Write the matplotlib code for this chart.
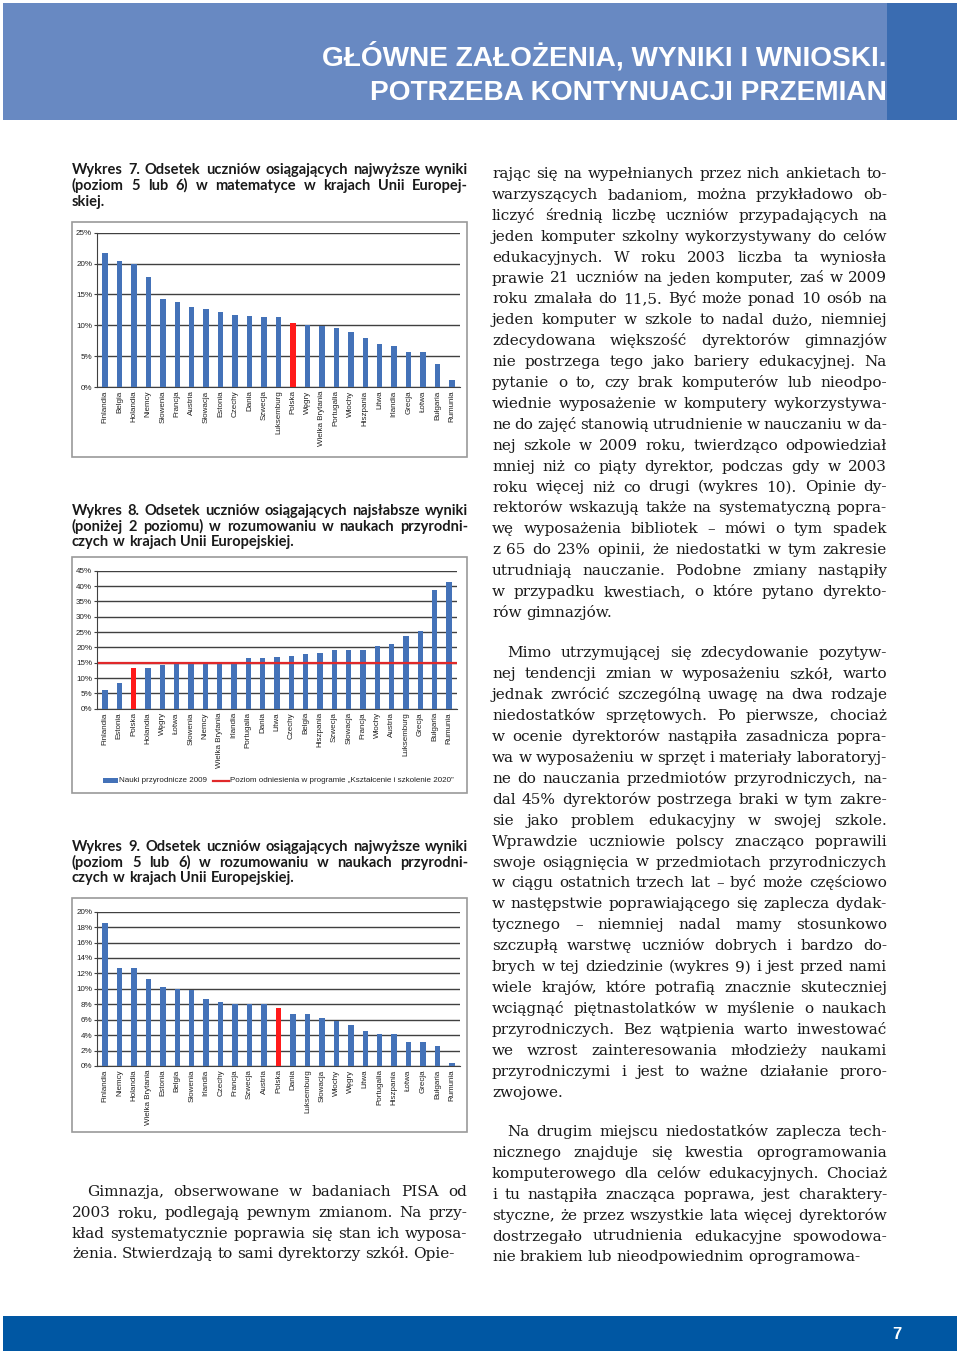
import numpy as np
import matplotlib
matplotlib.use('Agg')
import matplotlib.pyplot as plt
from matplotlib.patches import Rectangle
from matplotlib import font_manager

# --- data -------------------------------------------------------------
labels7 = ['Finlandia', 'Belgia', 'Holandia', 'Niemcy', 'Słowenia', 'Francja', 'Austria',
           'Słowacja', 'Estonia', 'Czechy', 'Dania', 'Szwecja', 'Luksemburg', 'Polska',
           'Węgry', 'Wielka Brytania', 'Portugalia', 'Włochy', 'Hiszpania', 'Litwa',
           'Irlandia', 'Grecja', 'Łotwa', 'Bułgaria', 'Rumunia']
values7 = [21.7, 20.4, 19.9, 17.8, 14.2, 13.7, 12.9, 12.7, 12.1, 11.6, 11.5, 11.4, 11.3,
           10.4, 10.1, 9.9, 9.6, 8.9, 8.0, 7.0, 6.6, 5.7, 5.7, 3.8, 1.2]

labels8 = ['Finlandia', 'Estonia', 'Polska', 'Holandia', 'Węgry', 'Łotwa', 'Słowenia',
           'Niemcy', 'Wielka Brytania', 'Irlandia', 'Portugalia', 'Dania', 'Litwa', 'Czechy',
           'Belgia', 'Hiszpania', 'Szwecja', 'Słowacja', 'Francja', 'Włochy', 'Austria',
           'Luksemburg', 'Grecja', 'Bułgaria', 'Rumunia']
values8 = [6.1, 8.4, 13.2, 13.2, 14.1, 14.8, 14.9, 14.9, 14.9, 15.1, 16.5, 16.6, 17.0, 17.3,
           18.0, 18.2, 19.1, 19.3, 19.3, 20.6, 21.0, 23.7, 25.3, 38.8, 41.4]
target8 = 15.0

labels9 = ['Finlandia', 'Niemcy', 'Holandia', 'Wielka Brytania', 'Estonia', 'Belgia',
           'Słowenia', 'Irlandia', 'Czechy', 'Francja', 'Szwecja', 'Austria', 'Polska',
           'Dania', 'Luksemburg', 'Słowacja', 'Włochy', 'Węgry', 'Litwa', 'Portugalia',
           'Hiszpania', 'Łotwa', 'Grecja', 'Bułgaria', 'Rumunia']
values9 = [18.6, 12.7, 12.7, 11.3, 10.3, 10.0, 9.9, 8.7, 8.3, 8.1, 8.1, 8.0, 7.5, 6.7, 6.7,
           6.2, 5.8, 5.3, 4.6, 4.2, 4.1, 3.1, 3.1, 2.6, 0.4]

header = ['GŁÓWNE ZAŁOŻENIA, WYNIKI I WNIOSKI.', 'POTRZEBA KONTYNUACJI PRZEMIAN']

caption7 = ['Wykres 7. Odsetek uczniów osiągających najwyższe wyniki',
            '(poziom 5 lub 6) w matematyce w krajach Unii Europej-',
            'skiej.']
caption8 = ['Wykres 8. Odsetek uczniów osiągających najsłabsze wyniki',
            '(poniżej 2 poziomu) w rozumowaniu w naukach przyrodni-',
            'czych w krajach Unii Europejskiej.']
caption9 = ['Wykres 9. Odsetek uczniów osiągających najwyższe wyniki',
            '(poziom 5 lub 6) w rozumowaniu w naukach przyrodni-',
            'czych w krajach Unii Europejskiej.']

legend8 = ['Nauki przyrodnicze 2009',
           'Poziom odniesienia w programie „Kształcenie i szkolenie 2020”']

left_par = ['Gimnazja, obserwowane w badaniach PISA od',
            '2003 roku,  podlegają pewnym zmianom. Na przy-',
            'kład systematycznie poprawia się stan ich wyposa-',
            'żenia. Stwierdzają to sami dyrektorzy szkół. Opie-']

right_par1 = ['rając się na wypełnianych przez nich ankietach to-',
              'warzyszących badaniom, można przykładowo ob-',
              'liczyć średnią liczbę uczniów przypadających na',
              'jeden komputer szkolny wykorzystywany do celów',
              'edukacyjnych. W roku 2003 liczba ta wyniosła',
              'prawie 21 uczniów na jeden komputer, zaś w 2009',
              'roku zmalała do 11,5. Być może ponad 10 osób na',
              'jeden komputer w szkole to nadal dużo, niemniej',
              'zdecydowana większość dyrektorów gimnazjów',
              'nie postrzega tego jako bariery edukacyjnej. Na',
              'pytanie o to, czy brak komputerów lub nieodpo-',
              'wiednie wyposażenie w komputery wykorzystywa-',
              'ne do zajęć stanowią utrudnienie w nauczaniu w da-',
              'nej szkole w 2009 roku, twierdząco odpowiedział',
              'mniej niż co piąty dyrektor, podczas gdy w 2003',
              'roku więcej niż co drugi (wykres 10). Opinie dy-',
              'rektorów wskazują także na systematyczną popra-',
              'wę wyposażenia bibliotek – mówi o tym spadek',
              'z 65 do 23% opinii, że niedostatki w tym zakresie',
              'utrudniają nauczanie. Podobne zmiany nastąpiły',
              'w przypadku kwestiach, o które pytano dyrekto-',
              'rów gimnazjów.']

right_par2 = ['Mimo utrzymującej się zdecydowanie pozytyw-',
              'nej tendencji zmian w wyposażeniu szkół, warto',
              'jednak zwrócić szczególną uwagę na dwa rodzaje',
              'niedostatków sprzętowych. Po pierwsze, chociaż',
              'w ocenie dyrektorów nastąpiła zasadnicza popra-',
              'wa w wyposażeniu w sprzęt i materiały laboratoryj-',
              'ne do nauczania przedmiotów przyrodniczych, na-',
              'dal 45% dyrektorów postrzega braki w tym zakre-',
              'sie jako problem edukacyjny w swojej szkole.',
              'Wprawdzie uczniowie polscy znacząco poprawili',
              'swoje osiągnięcia w przedmiotach przyrodniczych',
              'w ciągu ostatnich trzech lat – być może częściowo',
              'w następstwie poprawiającego się zaplecza dydak-',
              'tycznego – niemniej nadal mamy stosunkowo',
              'szczupłą warstwę uczniów dobrych i bardzo do-',
              'brych w tej dziedzinie (wykres 9) i jest przed nami',
              'wiele krajów, które potrafią znacznie skuteczniej',
              'wciągnąć piętnastolatków w myślenie o naukach',
              'przyrodniczych. Bez wątpienia warto inwestować',
              'we wzrost zainteresowania młodzieży naukami',
              'przyrodniczymi i jest to ważne działanie proro-',
              'zwojowe.']

right_par3 = ['Na drugim miejscu niedostatków zaplecza tech-',
              'nicznego znajduje się kwestia oprogramowania',
              'komputerowego dla celów edukacyjnych. Chociaż',
              'i tu nastąpiła znacząca poprawa, jest charaktery-',
              'styczne, że przez wszystkie lata więcej dyrektorów',
              'dostrzegało utrudnienia edukacyjne spowodowa-',
              'nie brakiem lub nieodpowiednim oprogramowa-']

page_number = '7'

# --- fonts / colours --------------------------------------------------
installed = {f.name for f in font_manager.fontManager.ttflist}
if 'Liberation Sans Narrow' in installed:
    NARROW = ['Liberation Sans Narrow', 'DejaVu Sans']
    tick_size = 6.6
else:
    NARROW = ['Liberation Sans', 'DejaVu Sans']
    tick_size = 5.8
CAPTION = ['Lato', 'DejaVu Sans']
SERIF = ['DejaVu Serif']

BLUE = '#4472b8'
RED = '#ff1a1a'
GRID = '#404040'

W, H = 960, 1354
fig = plt.figure(figsize=(W / 100, H / 100), dpi=100)
page = fig.add_axes([0, 0, 1, 1])
page.set_xlim(0, W)
page.set_ylim(H, 0)
page.axis('off')
renderer = fig.canvas.get_renderer()

_cache = {}


def word_width(word, size, family, weight):
    key = (word, size, tuple(family), weight)
    if key not in _cache:
        t = page.text(0, 0, word, fontsize=size, family=family, fontweight=weight)
        _cache[key] = t.get_window_extent(renderer).width
        t.remove()
    return _cache[key]


def fit_size(lines, x0, x1, family, weight, size, indent=0):
    ref = 10.0
    best = size
    for i, line in enumerate(lines[:-1]):
        words = line.split()
        total = sum(word_width(w, ref, family, weight) for w in words)
        avail = x1 - x0 - (indent if i == 0 else 0)
        s = ref * avail / (total + (len(words) - 1) * 0.22 * ref * 100 / 72)
        best = min(best, s)
    return best


def justify(lines, x0, x1, y0, dy, family, weight, size, indent=0, color='#1a1a1a'):
    space = 0.28 * size * 100 / 72
    for i, line in enumerate(lines):
        words = line.split()
        widths = [word_width(w, size, family, weight) for w in words]
        left = x0 + (indent if i == 0 else 0)
        if i == len(lines) - 1 or len(words) == 1:
            gap = space
        else:
            gap = (x1 - left - sum(widths)) / (len(words) - 1)
        x = left
        for w, wd in zip(words, widths):
            page.text(x, y0 + i * dy, w, fontsize=size, family=family, fontweight=weight,
                      color=color, va='baseline', ha='left')
            x += wd + gap


# --- header / footer --------------------------------------------------
page.add_patch(Rectangle((3, 3), 884, 117, color='#6889c2', lw=0))
page.add_patch(Rectangle((887, 3), 70, 117, color='#3a6cb1', lw=0))
hw = word_width(header[0], 24, NARROW, 'bold')
hsize = 24 * 565 / hw
page.text(887, 65, header[0], fontsize=hsize, family=NARROW, fontweight='bold',
          color='white', ha='right', va='baseline')
page.text(887, 100, header[1], fontsize=hsize, family=NARROW, fontweight='bold',
          color='white', ha='right', va='baseline')

page.add_patch(Rectangle((3, 1316), 954, 35, color='#0057a3', lw=0))
page.text(897, 1339, page_number, fontsize=12, family=NARROW, fontweight='bold',
          color='white', ha='center', va='baseline')

# --- captions ---------------------------------------------------------
csize = min(fit_size(c, 72, 468, CAPTION, 'bold', 10.5) for c in (caption7, caption8, caption9))
justify(caption7, 72, 468, 174, 15.8, CAPTION, 'bold', csize)
justify(caption8, 72, 468, 515, 15.6, CAPTION, 'bold', csize)
justify(caption9, 72, 468, 851, 15.6, CAPTION, 'bold', csize)

# --- body text --------------------------------------------------------
bsize = min(fit_size(left_par, 72, 467, SERIF, 'normal', 12.5, indent=15),
            fit_size(right_par1, 492, 887, SERIF, 'normal', 12.5),
            fit_size(right_par2, 492, 887, SERIF, 'normal', 12.5, indent=15),
            fit_size(right_par3, 492, 887, SERIF, 'normal', 12.5, indent=15))
justify(left_par, 72, 467, 1196, 20.8, SERIF, 'normal', bsize, indent=15)
justify(right_par1, 492, 887, 178, 20.9, SERIF, 'normal', bsize)
justify(right_par2, 492, 887, 657, 20.95, SERIF, 'normal', bsize, indent=15)
justify(right_par3, 492, 887, 1136, 20.9, SERIF, 'normal', bsize, indent=15)

# --- chart frames -----------------------------------------------------
for (x0, y0, x1, y1) in [(72, 222, 467, 457), (72, 557, 467, 793), (72, 898, 467, 1132)]:
    page.add_patch(Rectangle((x0, y0), x1 - x0, y1 - y0, fill=False, ec='#9a9a9a', lw=1.2))


def chart(rect, labels, values, ymax, step):
    l, t, r, b = rect
    ax = fig.add_axes([l / W, 1 - b / H, (r - l) / W, (b - t) / H])
    x = np.arange(len(values))
    colors = [RED if c == 'Polska' else BLUE for c in labels]
    ax.bar(x, values, width=0.38, color=colors, zorder=3)
    ax.set_xlim(-0.55, len(values) - 0.45)
    ax.set_ylim(0, ymax)
    ax.set_yticks(np.arange(0, ymax + step / 2, step))
    ax.set_yticklabels([f'{v:.0f}%' for v in np.arange(0, ymax + step / 2, step)],
                       family=NARROW, fontsize=tick_size, color='#222222')
    ax.set_xticks(x)
    ax.set_xticklabels(labels, rotation=90, family=NARROW, fontsize=tick_size,
                       color='#222222')
    ax.grid(axis='y', color=GRID, lw=1.0, zorder=0)
    ax.set_axisbelow(True)
    for s in ('top', 'right'):
        ax.spines[s].set_visible(False)
    ax.spines['left'].set_color(GRID)
    ax.spines['bottom'].set_color(GRID)
    ax.tick_params(axis='x', length=0, pad=2.5)
    ax.tick_params(axis='y', length=2, pad=1.5, color=GRID)
    ax.set_facecolor('none')
    return ax


chart((97, 232.7, 460, 387), labels7, values7, 25, 5)
ax8 = chart((97, 570.7, 457, 708.7), labels8, values8, 45, 5)
ax8.plot([-0.4, len(values8) - 0.45], [target8, target8], color='#e0282a', lw=1.6, zorder=4)
chart((97, 911.7, 460, 1066), labels9, values9, 20, 2)

# legend of chart 8
page.add_patch(Rectangle((103, 778), 15, 4.5, color=BLUE, lw=0))
page.text(119, 780.5, legend8[0], family=NARROW, fontsize=tick_size, color='#222222',
          va='center', ha='left')
page.plot([213, 229], [780.5, 780.5], color='#e0282a', lw=1.6)
page.text(230, 780.5, legend8[1], family=NARROW, fontsize=tick_size, color='#222222',
          va='center', ha='left')

fig.savefig('out.png', dpi=100)
